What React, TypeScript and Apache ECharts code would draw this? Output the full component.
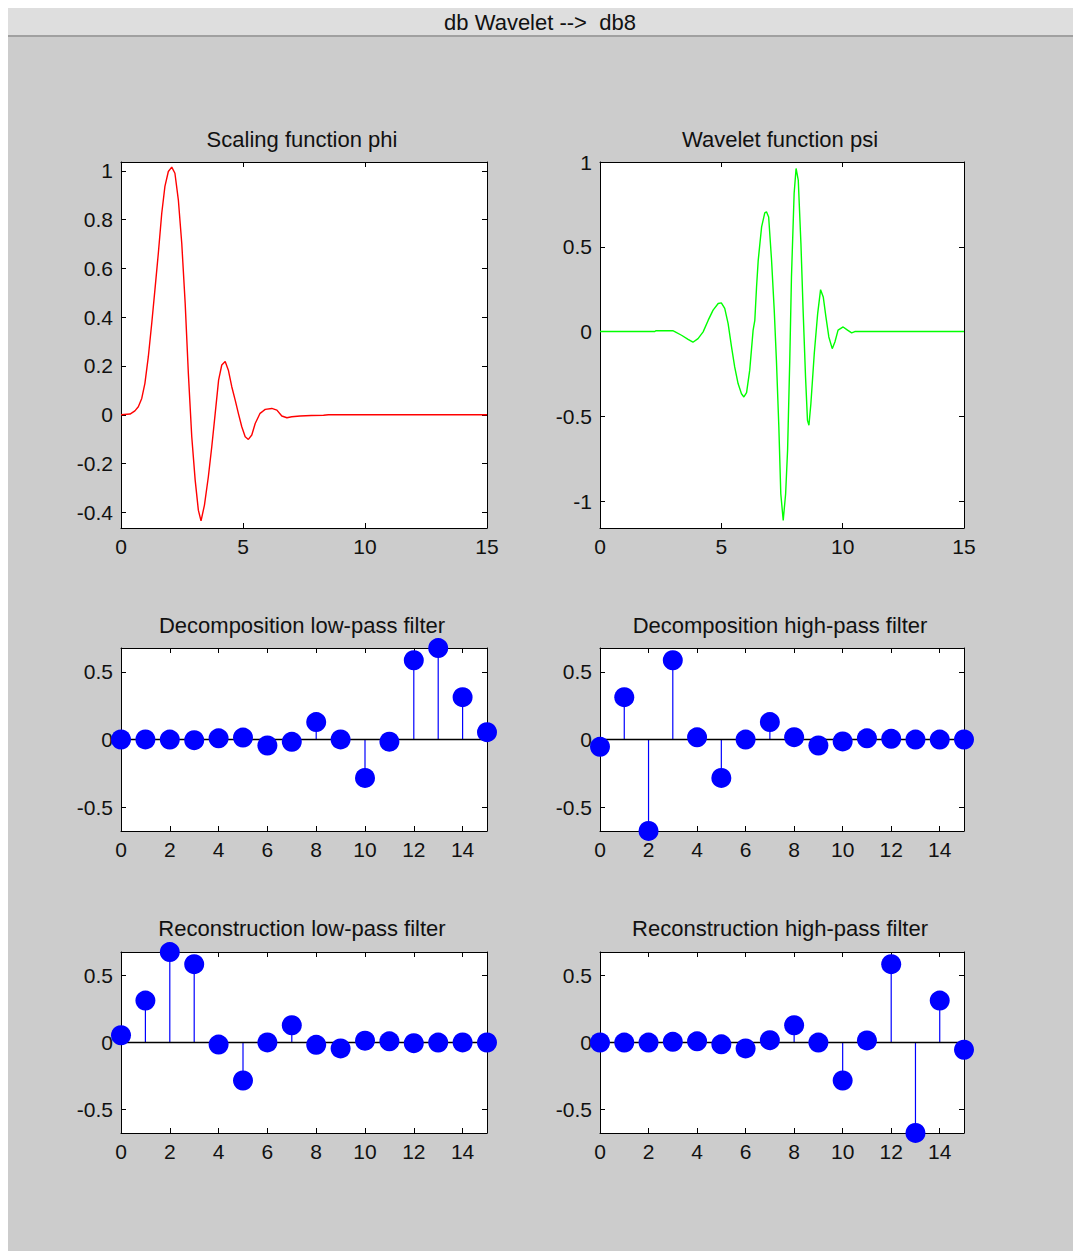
import React, { useEffect, useRef } from 'react';
import * as echarts from 'echarts';

// ---- data ----
const phiT = [0, 0.37, 0.57, 0.71, 0.85, 0.98, 1.12, 1.26, 1.39, 1.53, 1.67, 1.8, 1.94, 2.08, 2.21, 2.35, 2.49, 2.63, 2.76, 2.9, 3.04, 3.17, 3.28, 3.42, 3.58, 3.72, 3.86, 4.0, 4.13, 4.27, 4.4, 4.54, 4.68, 4.81, 4.95, 5.09, 5.22, 5.36, 5.5, 5.7, 5.91, 6.18, 6.39, 6.59, 6.8, 7.0, 7.34, 7.8, 8.3, 8.5, 15];
const phiV = [0, 0.003, 0.016, 0.033, 0.067, 0.129, 0.238, 0.375, 0.512, 0.662, 0.826, 0.936, 0.997, 1.015, 0.99, 0.881, 0.703, 0.457, 0.17, -0.09, -0.268, -0.391, -0.435, -0.37, -0.254, -0.131, 0.005, 0.142, 0.204, 0.218, 0.183, 0.115, 0.06, 0.006, -0.049, -0.09, -0.101, -0.083, -0.036, 0.006, 0.022, 0.026, 0.019, -0.005, -0.012, -0.008, -0.005, -0.003, -0.002, 0, 0];

const psiT = [0, 2.26, 2.3, 3.0, 3.08, 3.36, 3.63, 3.83, 4.04, 4.25, 4.46, 4.66, 4.87, 5.0, 5.14, 5.28, 5.42, 5.55, 5.69, 5.83, 5.93, 6.04, 6.17, 6.31, 6.38, 6.45, 6.52, 6.59, 6.66, 6.79, 6.86, 6.95, 7.07, 7.18, 7.27, 7.37, 7.45, 7.55, 7.65, 7.73, 7.82, 7.89, 8.0, 8.08, 8.17, 8.28, 8.37, 8.47, 8.55, 8.61, 8.69, 8.83, 8.97, 9.09, 9.2, 9.31, 9.43, 9.57, 9.68, 9.81, 10.02, 10.2, 10.37, 10.5, 15];
const psiV = [0, 0, 0.005, 0.005, 0, -0.022, -0.046, -0.063, -0.042, -0.002, 0.067, 0.126, 0.165, 0.169, 0.136, 0.047, -0.091, -0.209, -0.307, -0.367, -0.386, -0.36, -0.228, 0.008, 0.066, 0.26, 0.42, 0.52, 0.617, 0.7, 0.706, 0.676, 0.42, 0.126, -0.17, -0.563, -0.957, -1.114, -0.957, -0.7, -0.17, 0.322, 0.814, 0.962, 0.893, 0.519, 0.126, -0.268, -0.524, -0.553, -0.426, -0.13, 0.106, 0.247, 0.204, 0.086, -0.032, -0.101, -0.062, 0.008, 0.027, 0.008, -0.008, 0, 0];

const stemX = [0, 1, 2, 3, 4, 5, 6, 7, 8, 9, 10, 11, 12, 13, 14, 15];
const decLo = [-0.0001, 0.0007, -0.0004, -0.0049, 0.0087, 0.014, -0.0441, -0.0174, 0.1287, 0.0005, -0.284, -0.0158, 0.5854, 0.6756, 0.3129, 0.0544];
const decHi = [-0.0544, 0.3129, -0.6756, 0.5854, 0.0158, -0.284, -0.0005, 0.1287, 0.0174, -0.0441, -0.014, 0.0087, 0.0049, -0.0004, -0.0007, -0.0001];
const recLo = [0.0544, 0.3129, 0.6756, 0.5854, -0.0158, -0.284, 0.0005, 0.1287, -0.0174, -0.0441, 0.014, 0.0087, -0.0049, -0.0004, 0.0007, -0.0001];
const recHi = [-0.0001, -0.0007, -0.0004, 0.0049, 0.0087, -0.014, -0.0441, 0.0174, 0.1287, -0.0005, -0.284, 0.0158, 0.5854, -0.6756, 0.3129, -0.0544];

const pageTitle = 'db Wavelet -->\u00a0 db8';
const titles = [
  'Scaling function phi',
  'Wavelet function psi',
  'Decomposition low-pass filter',
  'Decomposition high-pass filter',
  'Reconstruction low-pass filter',
  'Reconstruction high-pass filter',
];

const FONT = '"Liberation Sans", Arial, sans-serif';
const TXT = '#111';

export default function App() {
  const ref = useRef<HTMLDivElement>(null);
  useEffect(() => {
    const chart = echarts.init(ref.current!, null, { renderer: 'svg' });

    // grid boxes (container coords)
    const L = 113, R = 592, WL = 366, WR = 364;
    const grids = [
      { left: L, top: 154, width: WL, height: 366 },
      { left: R, top: 154, width: WR, height: 366 },
      { left: L, top: 640, width: WL, height: 183 },
      { left: R, top: 640, width: WR, height: 183 },
      { left: L, top: 944, width: WL, height: 181 },
      { left: R, top: 944, width: WR, height: 181 },
    ].map((g) => ({
      ...g,
      containLabel: false,
      outerBoundsMode: 'none',
      show: true,
      backgroundColor: '#ffffff',
      borderWidth: 0,
    }));

    const fmt = (step: number) => (v: number) => {
      const k = v / step;
      if (Math.abs(k - Math.round(k)) > 1e-6) return '';
      return String(Math.round(v * 1000) / 1000);
    };

    const axisLine = { show: true, onZero: false, lineStyle: { color: '#000', width: 1 } };
    const axisTick = { show: true, inside: true, length: 5, lineStyle: { color: '#000', width: 1 } };
    const label = (show: boolean, f?: any) => ({
      show,
      color: TXT,
      fontSize: 21,
      fontFamily: FONT,
      margin: 8,
      formatter: f,
      showMinLabel: true,
      showMaxLabel: true,
    });

    const cfg = [
      { xMax: 15, xInt: 5, xStep: 5, yMin: -0.464, yMax: 1.036, ySplit: 7, yStep: 0.2 },
      { xMax: 15, xInt: 5, xStep: 5, yMin: -1.159, yMax: 1, ySplit: 4, yStep: 0.5 },
      { xMax: 15, xInt: 2, xStep: 2, yMin: -0.676, yMax: 0.676, ySplit: 3, yStep: 0.5 },
      { xMax: 15, xInt: 2, xStep: 2, yMin: -0.676, yMax: 0.676, ySplit: 3, yStep: 0.5 },
      { xMax: 15, xInt: 2, xStep: 2, yMin: -0.676, yMax: 0.676, ySplit: 3, yStep: 0.5 },
      { xMax: 15, xInt: 2, xStep: 2, yMin: -0.676, yMax: 0.676, ySplit: 3, yStep: 0.5 },
    ];

    const xAxis: any[] = [];
    const yAxis: any[] = [];
    cfg.forEach((c, gi) => {
      ['bottom', 'top'].forEach((pos, j) => {
        xAxis.push({
          type: 'value',
          gridIndex: gi,
          position: pos,
          min: 0,
          max: c.xMax,
          interval: c.xInt,
          axisLine,
          axisTick,
          splitLine: { show: false },
          axisLabel: label(j === 0, fmt(c.xStep)),
        });
      });
      ['left', 'right'].forEach((pos, j) => {
        yAxis.push({
          type: 'value',
          gridIndex: gi,
          position: pos,
          min: c.yMin,
          max: c.yMax,
          splitNumber: c.ySplit,
          axisLine,
          axisTick,
          splitLine: { show: false },
          axisLabel: label(j === 0, fmt(c.yStep)),
        });
      });
    });

    const series: any[] = [
      {
        type: 'line',
        xAxisIndex: 0,
        yAxisIndex: 0,
        data: phiT.map((t, i) => [t, phiV[i]]),
        showSymbol: false,
        symbol: 'none',
        lineStyle: { color: '#ff0000', width: 1.4 },
        silent: true,
        z: 3,
      },
      {
        type: 'line',
        xAxisIndex: 2,
        yAxisIndex: 2,
        data: psiT.map((t, i) => [t, psiV[i]]),
        showSymbol: false,
        symbol: 'none',
        lineStyle: { color: '#00ff00', width: 1.4 },
        silent: true,
        z: 3,
      },
    ];

    [decLo, decHi, recLo, recHi].forEach((vals, k) => {
      const gi = k + 2;
      const ax = gi * 2;
      const data = stemX.map((x, i) => [x, vals[i]]);
      series.push({
        type: 'custom',
        xAxisIndex: ax,
        yAxisIndex: ax,
        data,
        silent: true,
        z: 2,
        renderItem: (_p: any, api: any) => {
          const x = api.value(0);
          const y = api.value(1);
          const p0 = api.coord([x, 0]);
          const p1 = api.coord([x, y]);
          return {
            type: 'line',
            shape: { x1: p0[0], y1: p0[1], x2: p1[0], y2: p1[1] },
            style: { stroke: '#0000ff', lineWidth: 1.2 },
          };
        },
      });
      series.push({
        type: 'line',
        xAxisIndex: ax,
        yAxisIndex: ax,
        data: [
          [stemX[0], 0],
          [stemX[stemX.length - 1], 0],
        ],
        showSymbol: false,
        symbol: 'none',
        lineStyle: { color: '#000', width: 1.3 },
        silent: true,
        z: 3,
      });
      series.push({
        type: 'scatter',
        xAxisIndex: ax,
        yAxisIndex: ax,
        data,
        symbol: 'circle',
        symbolSize: 20,
        itemStyle: { color: '#0000ff', opacity: 1 },
        clip: false,
        silent: true,
        z: 4,
      });
    });

    const tpos = [
      [294, 131],
      [772, 131],
      [294, 617],
      [772, 617],
      [294, 920],
      [772, 920],
    ];

    const graphic: any[] = [
      {
        type: 'rect',
        shape: { x: 0, y: 0, width: 1065, height: 28 },
        style: { fill: '#dedede' },
        silent: true,
        z: -10,
      },
      {
        type: 'line',
        shape: { x1: 0, y1: 28, x2: 1065, y2: 28 },
        style: { stroke: '#a0a0a0', lineWidth: 2 },
        silent: true,
        z: -9,
      },
      {
        type: 'text',
        x: 532,
        y: 14,
        style: {
          text: pageTitle,
          fill: TXT,
          font: `22px ${FONT}`,
          textAlign: 'center',
          textVerticalAlign: 'middle',
        },
        silent: true,
      },
      ...titles.map((t, i) => ({
        type: 'text',
        x: tpos[i][0],
        y: tpos[i][1],
        style: {
          text: t,
          fill: TXT,
          font: `22px ${FONT}`,
          textAlign: 'center',
          textVerticalAlign: 'middle',
        },
        silent: true,
      })),
    ];

    chart.setOption({
      animation: false,
      backgroundColor: '#cccccc',
      grid: grids,
      xAxis,
      yAxis,
      series,
      graphic,
    });
    return () => chart.dispose();
  }, []);
  return (
    <div
      ref={ref}
      style={{ position: 'fixed', left: 8, top: 8, width: 1065, height: 1243, background: '#cccccc' }}
    />
  );
}
